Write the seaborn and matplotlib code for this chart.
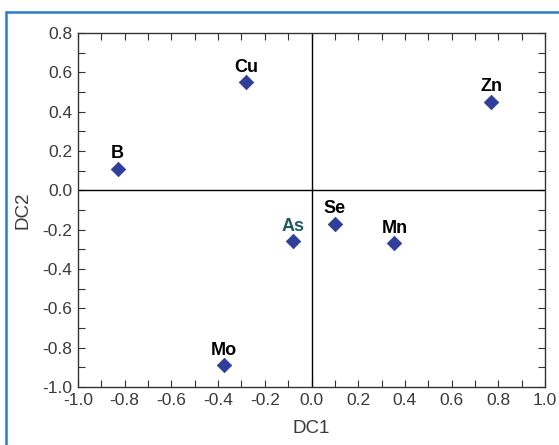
import matplotlib
matplotlib.use("Agg")
import matplotlib.pyplot as plt
from matplotlib.lines import Line2D
from matplotlib.ticker import MultipleLocator
import seaborn as sns
import pandas as pd

# Discriminant function scores for each element
elements = ["Cu", "B", "Zn", "Mo", "As", "Se", "Mn"]
dc1 = [-0.28, -0.83, 0.77, -0.375, -0.08, 0.10, 0.355]
dc2 = [0.55, 0.11, 0.45, -0.89, -0.26, -0.17, -0.27]
label_colors = ["black", "black", "black", "black", "#1d5e5a", "black", "black"]

df = pd.DataFrame({"DC1": dc1, "DC2": dc2, "element": elements})

sns.set_style("white")
plt.rcParams["font.family"] = ["Liberation Sans", "DejaVu Sans"]

fig = plt.figure(figsize=(5.59, 4.45), dpi=100)
ax = fig.add_axes([0.1395, 0.1303, 0.8355, 0.7955])

sns.scatterplot(data=df, x="DC1", y="DC2", marker="D", s=55, color="#2f3e98",
                edgecolor="#2f3e98", linewidth=0.5, ax=ax, zorder=3)

for x, y, name, c in zip(dc1, dc2, elements, label_colors):
    ax.annotate(name, (x, y), xytext=(0, 7.5), textcoords="offset points",
                ha="center", va="baseline", fontsize=13, fontweight="bold", color=c)

ax.axhline(0, color="black", lw=1.0, zorder=1)
ax.axvline(0, color="black", lw=1.0, zorder=1)

ax.set_xlim(-1.0, 1.0)
ax.set_ylim(-1.0, 0.8)
ax.xaxis.set_major_locator(MultipleLocator(0.2))
ax.xaxis.set_minor_locator(MultipleLocator(0.1))
ax.yaxis.set_major_locator(MultipleLocator(0.2))
ax.yaxis.set_minor_locator(MultipleLocator(0.1))
ax.xaxis.set_major_formatter(lambda v, p: f"{v:.1f}".replace("-0.0", "0.0"))
ax.yaxis.set_major_formatter(lambda v, p: f"{v:.1f}".replace("-0.0", "0.0"))

ax.tick_params(which="both", direction="in", top=True, right=True,
               bottom=True, left=True, color="#333333", width=0.8)
ax.tick_params(which="major", length=5, labelsize=12.5, labelcolor="#3a3a3a", pad=4)
ax.tick_params(which="minor", length=5)

for s in ax.spines.values():
    s.set_color("#333333")
    s.set_linewidth(1.0)

ax.set_xlabel("DC1", fontsize=13.5, color="#3a3a3a", labelpad=9)
ax.set_ylabel("DC2", fontsize=13.5, color="#3a3a3a", labelpad=8)

# Blue frame along top and left edges
frame = "#2a7dc9"
fig.add_artist(Line2D([6 / 559, 6 / 559], [0, 1 - 12 / 445], transform=fig.transFigure,
                      color=frame, lw=1.8))
fig.add_artist(Line2D([6 / 559, 1], [1 - 12 / 445, 1 - 12 / 445], transform=fig.transFigure,
                      color=frame, lw=1.8))

fig.savefig("out.png", dpi=100)
